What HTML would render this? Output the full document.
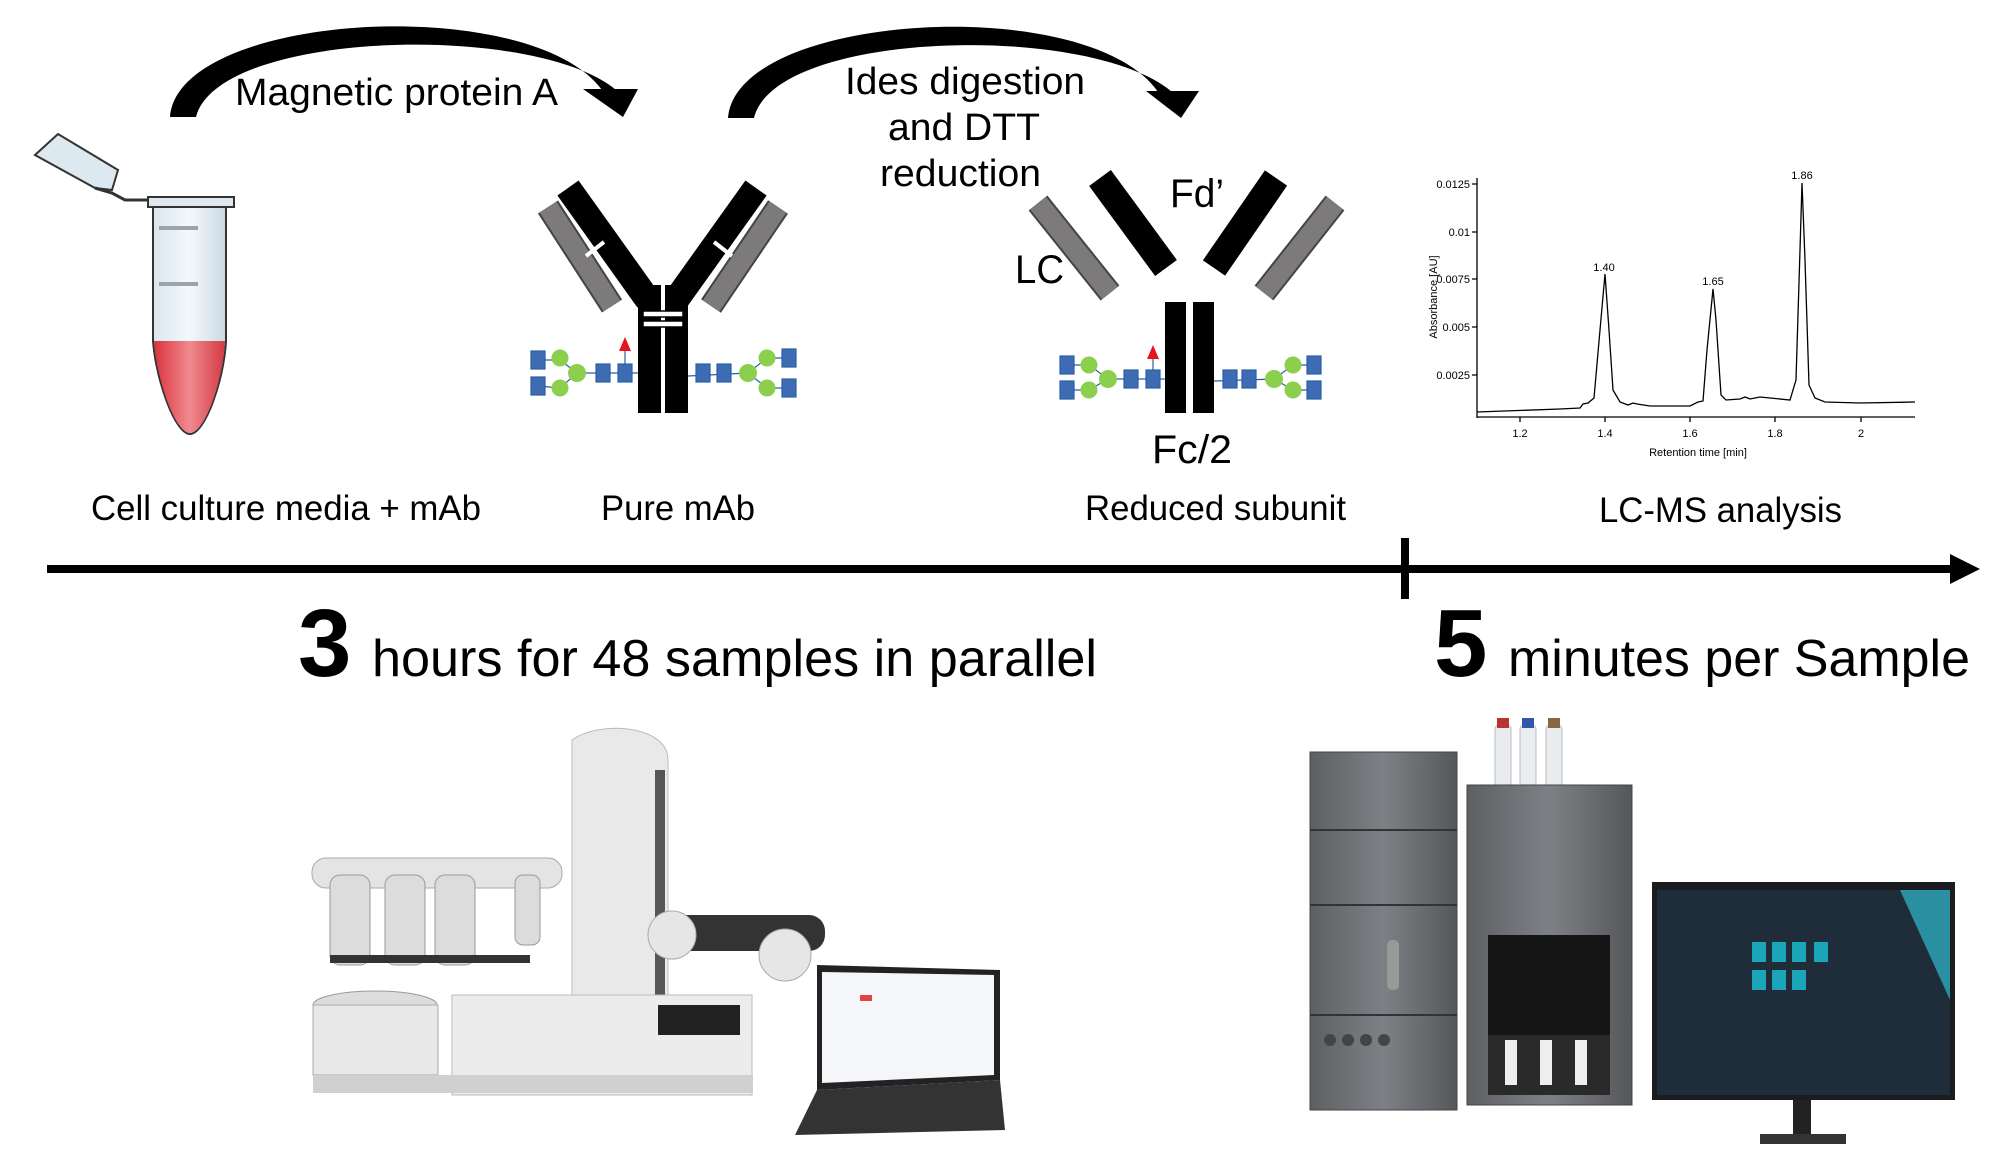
<!DOCTYPE html>
<html><head><meta charset="utf-8"><style>
html,body{margin:0;padding:0;background:#fff}
svg{display:block}
text{font-family:"Liberation Sans",Arial,sans-serif}
</style></head><body>
<svg width="2000" height="1162" viewBox="0 0 2000 1162" xmlns="http://www.w3.org/2000/svg">
<defs>
<linearGradient id="tube" x1="0" x2="1"><stop offset="0" stop-color="#d9e6ee"/><stop offset="0.5" stop-color="#f4f8fb"/><stop offset="1" stop-color="#c9d9e4"/></linearGradient>
<linearGradient id="red" x1="0" x2="1"><stop offset="0" stop-color="#d9333d"/><stop offset="0.5" stop-color="#f08a8f"/><stop offset="1" stop-color="#d23a42"/></linearGradient>
<linearGradient id="lc" x1="0" x2="1"><stop offset="0" stop-color="#5d5f63"/><stop offset="0.5" stop-color="#7d8084"/><stop offset="1" stop-color="#55575b"/></linearGradient>
</defs>

<!-- arcs -->
<path d="M170,117 C178,12 530,-8 602,90 L616,90 C535,22 218,30 196,117 Z" fill="#000"/>
<polygon points="583,89 638,89 623,117" fill="#000"/>
<path d="M728,118 C736,12 1090,-8 1158,92 L1172,92 C1090,22 775,30 754,118 Z" fill="#000"/>
<polygon points="1146,91 1199,91 1181,118" fill="#000"/>

<text x="235" y="105" font-size="38" textLength="323" lengthAdjust="spacingAndGlyphs">Magnetic protein A</text>
<text x="845" y="94" font-size="38" textLength="240" lengthAdjust="spacingAndGlyphs">Ides digestion</text>
<text x="888" y="140" font-size="38" textLength="152" lengthAdjust="spacingAndGlyphs">and DTT</text>
<text x="880" y="186" font-size="38" textLength="161" lengthAdjust="spacingAndGlyphs">reduction</text>

<!-- tube -->
<g stroke="#333" stroke-width="2">
<polygon points="35,155 58,134 118,170 112,190 95,188" fill="#dde9f0"/>
<path d="M95,188 L112,193 L125,200 L148,200" fill="none" stroke-width="3"/>
<rect x="148" y="197" width="86" height="10" fill="#dfe8ee"/>
<path d="M153,207 L226,207 L226,341 C224,380 205,434 190,434 C175,434 156,380 153,341 Z" fill="url(#tube)"/>
<path d="M154,341 L225,341 C223,380 205,433 190,433 C175,433 157,380 154,341 Z" fill="url(#red)" stroke="none"/>
</g>
<rect x="159" y="226" width="39" height="4" fill="#9aa4aa"/>
<rect x="159" y="282" width="39" height="4" fill="#9aa4aa"/>

<!-- antibody 1 -->
<g>
<line x1="548" y1="207" x2="612" y2="306" stroke="#444" stroke-width="24"/>
<line x1="548" y1="207" x2="612" y2="306" stroke="#7c7a7a" stroke-width="20"/>
<line x1="778" y1="207" x2="711" y2="306" stroke="#444" stroke-width="24"/>
<line x1="778" y1="207" x2="711" y2="306" stroke="#7c7a7a" stroke-width="20"/>
<line x1="568" y1="188" x2="648" y2="300" stroke="#000" stroke-width="26"/>
<line x1="756" y1="188" x2="676" y2="300" stroke="#000" stroke-width="26"/>
</g>
<rect x="638" y="285" width="23" height="128" fill="#000"/>
<rect x="665" y="285" width="23" height="128" fill="#000"/>
<rect x="643" y="311" width="40" height="6" fill="#fff" stroke="#000" stroke-width="1.5"/>
<rect x="643" y="321" width="40" height="6" fill="#fff" stroke="#000" stroke-width="1.5"/>
<line x1="588" y1="240" x2="602" y2="258" stroke="#fff" stroke-width="4" transform="rotate(90 595 249)"/>
<line x1="730" y1="240" x2="716" y2="258" stroke="#fff" stroke-width="4" transform="rotate(-90 723 249)"/>

<g stroke="#2b5fa3" stroke-width="1.2">
<line x1="538" y1="360" x2="560" y2="360"/><line x1="538" y1="386" x2="560" y2="388"/>
<line x1="560" y1="360" x2="577" y2="373"/><line x1="560" y1="388" x2="577" y2="373"/>
<line x1="577" y1="373" x2="638" y2="373"/><line x1="625" y1="373" x2="625" y2="350"/>
<rect x="531" y="351" width="14" height="18" fill="#3d6cb4"/><rect x="531" y="377" width="14" height="18" fill="#3d6cb4"/>
<circle cx="560" cy="358" r="8.5" fill="#8ccf4d" stroke="none"/><circle cx="560" cy="388" r="8.5" fill="#8ccf4d" stroke="none"/>
<circle cx="577" cy="373" r="9" fill="#8ccf4d" stroke="none"/>
<rect x="596" y="364" width="14" height="18" fill="#3d6cb4"/><rect x="618" y="364" width="14" height="18" fill="#3d6cb4"/>
<polygon points="625,337 619,351 631,351" fill="#e8141c" stroke="none"/>
</g>
<g stroke="#2b5fa3" stroke-width="1.2">
<line x1="688" y1="376" x2="748" y2="373"/>
<line x1="748" y1="373" x2="767" y2="358"/><line x1="748" y1="373" x2="767" y2="388"/>
<line x1="767" y1="358" x2="789" y2="358"/><line x1="767" y1="388" x2="789" y2="388"/>
<rect x="696" y="364" width="14" height="18" fill="#3d6cb4"/><rect x="717" y="364" width="14" height="18" fill="#3d6cb4"/>
<circle cx="748" cy="373" r="9" fill="#8ccf4d" stroke="none"/>
<circle cx="767" cy="358" r="8.5" fill="#8ccf4d" stroke="none"/><circle cx="767" cy="388" r="8.5" fill="#8ccf4d" stroke="none"/>
<rect x="782" y="349" width="14" height="18" fill="#3d6cb4"/><rect x="782" y="379" width="14" height="18" fill="#3d6cb4"/>
</g>

<!-- reduced subunit -->
<line x1="1038" y1="203" x2="1110" y2="293" stroke="#444" stroke-width="24"/>
<line x1="1038" y1="203" x2="1110" y2="293" stroke="#7c7a7a" stroke-width="20"/>
<line x1="1335" y1="203" x2="1264" y2="293" stroke="#444" stroke-width="24"/>
<line x1="1335" y1="203" x2="1264" y2="293" stroke="#7c7a7a" stroke-width="20"/>
<line x1="1100" y1="178" x2="1166" y2="268" stroke="#000" stroke-width="27"/>
<line x1="1276" y1="178" x2="1214" y2="268" stroke="#000" stroke-width="27"/>
<rect x="1165" y="302" width="21" height="111" fill="#000"/>
<rect x="1193" y="302" width="21" height="111" fill="#000"/>
<text x="1170" y="207" font-size="40" textLength="54" lengthAdjust="spacingAndGlyphs">Fd’</text>
<text x="1015" y="283" font-size="40" textLength="49" lengthAdjust="spacingAndGlyphs">LC</text>
<text x="1152" y="463" font-size="40" textLength="80" lengthAdjust="spacingAndGlyphs">Fc/2</text>
<g stroke="#2b5fa3" stroke-width="1.2">
<line x1="1067" y1="365" x2="1089" y2="365"/><line x1="1067" y1="390" x2="1089" y2="390"/>
<line x1="1089" y1="365" x2="1108" y2="379"/><line x1="1089" y1="390" x2="1108" y2="379"/>
<line x1="1108" y1="379" x2="1165" y2="379"/><line x1="1153" y1="379" x2="1153" y2="358"/>
<rect x="1060" y="356" width="14" height="18" fill="#3d6cb4"/><rect x="1060" y="381" width="14" height="18" fill="#3d6cb4"/>
<circle cx="1089" cy="365" r="8.5" fill="#8ccf4d" stroke="none"/><circle cx="1089" cy="390" r="8.5" fill="#8ccf4d" stroke="none"/>
<circle cx="1108" cy="379" r="9" fill="#8ccf4d" stroke="none"/>
<rect x="1124" y="370" width="14" height="18" fill="#3d6cb4"/><rect x="1146" y="370" width="14" height="18" fill="#3d6cb4"/>
<polygon points="1153,345 1147,359 1159,359" fill="#e8141c" stroke="none"/>
<line x1="1214" y1="381" x2="1274" y2="379"/>
<line x1="1274" y1="379" x2="1293" y2="365"/><line x1="1274" y1="379" x2="1293" y2="390"/>
<line x1="1293" y1="365" x2="1314" y2="365"/><line x1="1293" y1="390" x2="1314" y2="390"/>
<rect x="1223" y="370" width="14" height="18" fill="#3d6cb4"/><rect x="1242" y="370" width="14" height="18" fill="#3d6cb4"/>
<circle cx="1274" cy="379" r="9" fill="#8ccf4d" stroke="none"/>
<circle cx="1293" cy="365" r="8.5" fill="#8ccf4d" stroke="none"/><circle cx="1293" cy="390" r="8.5" fill="#8ccf4d" stroke="none"/>
<rect x="1307" y="356" width="14" height="18" fill="#3d6cb4"/><rect x="1307" y="381" width="14" height="18" fill="#3d6cb4"/>
</g>

<!-- chromatogram -->
<g stroke="#000" stroke-width="1.3" fill="none">
<line x1="1477" y1="178" x2="1477" y2="418"/>
<line x1="1477" y1="417" x2="1915" y2="417"/>
<path d="M1472,184h5M1472,232h5M1472,279h5M1472,327h5M1472,375h5M1520,417v5M1605,417v5M1690,417v5M1775,417v5M1861,417v5"/>
<path d="M1477,412 L1560,409 L1580,408 L1583,404 L1588,403 L1594,398 L1600,330 L1605,274 L1609,330 L1613,390 L1620,402 L1628,405 L1633,403 L1637,404 L1650,406 L1690,406 L1698,402 L1703,401 L1707,350 L1713,289 L1716,320 L1721,395 L1726,400 L1740,399 L1745,397 L1750,399 L1760,397 L1770,398 L1790,400 L1796,380 L1800,250 L1802,183 L1805,260 L1809,385 L1815,398 L1825,402 L1860,403 L1915,402"/>
</g>
<g font-size="11" text-anchor="end">
<text x="1470" y="188">0.0125</text><text x="1470" y="236">0.01</text><text x="1470" y="283">0.0075</text><text x="1470" y="331">0.005</text><text x="1470" y="379">0.0025</text>
</g>
<g font-size="11" text-anchor="middle">
<text x="1520" y="437">1.2</text><text x="1605" y="437">1.4</text><text x="1690" y="437">1.6</text><text x="1775" y="437">1.8</text><text x="1861" y="437">2</text>
<text x="1604" y="271">1.40</text><text x="1713" y="285">1.65</text><text x="1802" y="179">1.86</text>
<text x="1698" y="456">Retention time [min]</text>
<text transform="translate(1437,297) rotate(-90)">Absorbance [AU]</text>
</g>

<!-- labels -->
<g font-size="35">
<text x="91" y="520" textLength="390" lengthAdjust="spacingAndGlyphs">Cell culture media + mAb</text>
<text x="601" y="520" textLength="154" lengthAdjust="spacingAndGlyphs">Pure mAb</text>
<text x="1085" y="520" textLength="261" lengthAdjust="spacingAndGlyphs">Reduced subunit</text>
<text x="1599" y="522" textLength="243" lengthAdjust="spacingAndGlyphs">LC-MS analysis</text>
</g>

<!-- timeline -->
<rect x="47" y="565" width="1910" height="8" fill="#000"/>
<polygon points="1950,554 1980,569 1950,584" fill="#000"/>
<rect x="1401" y="538" width="8" height="61" fill="#000"/>

<text x="298" y="676" font-size="96" font-weight="bold">3</text>
<text x="372" y="676" font-size="52" textLength="725" lengthAdjust="spacingAndGlyphs">hours for 48 samples in parallel</text>
<text x="1434" y="676" font-size="96" font-weight="bold">5</text>
<text x="1508" y="676" font-size="52" textLength="462" lengthAdjust="spacingAndGlyphs">minutes per Sample</text>

<!-- robot -->
<g>
<path d="M572,740 C600,720 668,725 668,760 L668,1000 L572,1000 Z" fill="#e8e9e8" stroke="#bbb"/>
<rect x="655" y="770" width="10" height="230" fill="#555"/>
<rect x="312" y="858" width="250" height="30" rx="14" fill="#e4e4e4" stroke="#aaa"/>
<rect x="330" y="875" width="40" height="90" rx="10" fill="#dcdcdc" stroke="#999"/>
<rect x="385" y="875" width="40" height="90" rx="10" fill="#dcdcdc" stroke="#999"/>
<rect x="435" y="875" width="40" height="90" rx="10" fill="#dcdcdc" stroke="#999"/>
<rect x="515" y="875" width="25" height="70" rx="8" fill="#dcdcdc" stroke="#999"/>
<rect x="330" y="955" width="200" height="8" fill="#333"/>
<rect x="655" y="915" width="170" height="36" rx="16" fill="#333"/>
<circle cx="672" cy="935" r="24" fill="#e6e6e6" stroke="#aaa"/>
<circle cx="785" cy="955" r="26" fill="#e6e6e6" stroke="#aaa"/>
<ellipse cx="375" cy="1005" rx="62" ry="14" fill="#ddd" stroke="#999"/>
<rect x="313" y="1005" width="125" height="70" fill="#e8e8e8" stroke="#aaa"/>
<rect x="452" y="995" width="300" height="100" fill="#ececec" stroke="#bbb"/>
<rect x="658" y="1005" width="82" height="30" fill="#222"/>
<rect x="313" y="1075" width="440" height="18" fill="#d0d0d0"/>
<polygon points="817,965 1000,970 1000,1080 817,1090" fill="#222"/>
<polygon points="822,972 994,975 994,1075 822,1083" fill="#f4f6fa"/>
<polygon points="817,1090 1000,1080 1005,1130 795,1135" fill="#333"/>
<rect x="860" y="995" width="12" height="6" fill="#d44"/>
</g>

<!-- LC system -->
<g>
<rect x="1310" y="752" width="147" height="358" fill="url(#lc)" stroke="#444"/>
<line x1="1310" y1="830" x2="1457" y2="830" stroke="#333" stroke-width="2"/>
<line x1="1310" y1="905" x2="1457" y2="905" stroke="#333" stroke-width="2"/>
<line x1="1310" y1="1015" x2="1457" y2="1015" stroke="#333" stroke-width="2"/>
<rect x="1387" y="940" width="12" height="50" rx="5" fill="#999"/>
<g fill="#444"><circle cx="1330" cy="1040" r="6"/><circle cx="1348" cy="1040" r="6"/><circle cx="1366" cy="1040" r="6"/><circle cx="1384" cy="1040" r="6"/></g>
<rect x="1495" y="725" width="16" height="62" rx="4" fill="#e9edf0" stroke="#bbb"/>
<rect x="1520" y="725" width="16" height="62" rx="4" fill="#e9edf0" stroke="#bbb"/>
<rect x="1546" y="725" width="16" height="62" rx="4" fill="#e9edf0" stroke="#bbb"/>
<rect x="1497" y="718" width="12" height="10" fill="#b33"/>
<rect x="1522" y="718" width="12" height="10" fill="#35a"/>
<rect x="1548" y="718" width="12" height="10" fill="#864"/>
<rect x="1467" y="785" width="165" height="320" fill="url(#lc)" stroke="#444"/>
<rect x="1488" y="935" width="122" height="100" fill="#151515"/>
<rect x="1488" y="1035" width="122" height="60" fill="#2a2a2a"/>
<g fill="#eee"><rect x="1505" y="1040" width="12" height="45"/><rect x="1540" y="1040" width="12" height="45"/><rect x="1575" y="1040" width="12" height="45"/></g>
</g>

<!-- monitor -->
<g>
<rect x="1652" y="882" width="303" height="218" fill="#1a1c1f"/>
<rect x="1657" y="890" width="293" height="205" fill="#1f2d3a"/>
<polygon points="1900,890 1950,890 1950,1000" fill="#2a8fa0"/>
<g fill="#1aa5b8">
<rect x="1752" y="942" width="14" height="20"/><rect x="1772" y="942" width="14" height="20"/><rect x="1792" y="942" width="14" height="20"/><rect x="1814" y="942" width="14" height="20"/>
<rect x="1752" y="970" width="14" height="20"/><rect x="1772" y="970" width="14" height="20"/><rect x="1792" y="970" width="14" height="20"/>
</g>
<rect x="1793" y="1100" width="18" height="40" fill="#222"/>
<rect x="1760" y="1134" width="86" height="10" fill="#333"/>
</g>
</svg>
</body></html>
